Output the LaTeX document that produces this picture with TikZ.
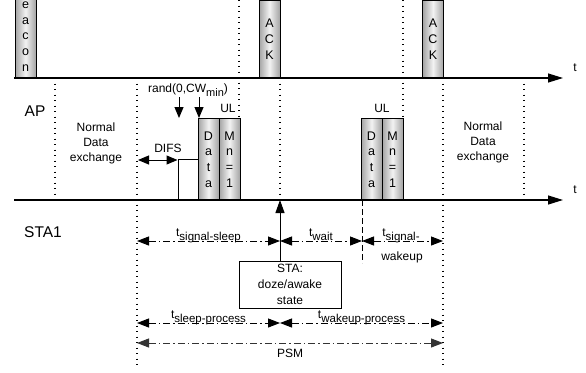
\documentclass[tikz,border=0pt]{standalone}
\usepackage{fontspec}
\setmainfont{Liberation Sans}
\usetikzlibrary{arrows.meta}

\newcommand{\tdur}[1]{t\raisebox{-4.5pt}{\fontsize{11.5}{12}\selectfont #1}}

\begin{document}
\begin{tikzpicture}[
       x=1pt, y=-1pt,
       line width=1pt,
       frame/.style={
         draw,
         left color=black!36,
         right color=black!36,
         middle color=black!5,
         minimum width=21pt,
         inner sep=0pt,
         align=center,
         font=\fontsize{12.5}{15.7}\selectfont
       },
       timeline/.style={line width=1.2pt, -{Triangle[length=15pt,width=9pt]}},
       guide/.style={line width=1.3pt, dash pattern=on 1.3pt off 4.2pt},
       span/.style={
         line width=1pt,
         dash pattern=on 7pt off 3pt on 1.5pt off 3pt,
         {Triangle[length=12pt,width=9pt]}-{Triangle[length=12pt,width=9pt]}
       },
       lbl/.style={font=\fontsize{12}{15}\selectfont, align=center},
       big/.style={font=\fontsize{15.5}{18}\selectfont}
     ]

       \useasboundingbox (0,0) rectangle (586,372);
       \clip (0,0) rectangle (586,372);

       % time axes
       \coordinate (ap0) at (14,78);
       \coordinate (ap1) at (563,78);
       \coordinate (st0) at (14,200);
       \coordinate (st1) at (563,200);

       \node[lbl] (tap) at (575,68) {t};
       \node[lbl] (tst) at (575,190) {t};
       \node[big] (ap) at (35,111) {AP};
       \node[big] (sta1) at (43,232) {STA1};

       % frames
       \node[frame, minimum height=83pt] (bcn) at (25.5,36.5) {e\\a\\c\\o\\n};
       \node[frame, minimum height=78pt] (ack1) at (269.5,39) {A\\C\\K};
       \node[frame, minimum height=78pt] (ack2) at (433,39) {A\\C\\K};

       \node[draw, fill=white, minimum width=20pt, minimum height=41pt, inner sep=0pt] (gap) at (188,179.5) {};
       \node[frame, minimum height=82pt] (data1) at (208.5,159.5) {D\\a\\t\\a};
       \node[frame, minimum height=82pt] (mn1) at (229.5,159.5) {M\\n\\=\\1};
       \node[frame, minimum height=82pt] (data2) at (371.5,159.5) {D\\a\\t\\a};
       \node[frame, minimum height=82pt] (mn2) at (392.5,159.5) {M\\n\\=\\1};

       \draw[timeline] (ap0) -- (ap1);
       \draw[timeline] (st0) -- (st1);

       % guides
       \draw[guide] (55,78) -- (55,200);
       \draw[guide] (137,78) -- (137,365);
       \draw[guide] (239,0) -- (239,118);
       \draw[guide] (280,78) -- (280,200);
       \draw[guide] (403,0) -- (403,118);
       \draw[guide] (443,78) -- (443,365);
       \draw[guide] (524,78) -- (524,200);
       \draw[dash pattern=on 6pt off 3pt] (362,200) -- (362,263);

       \node[lbl] (nde1) at (96,143) {Normal\\Data\\exchange};
       \node[lbl] (nde2) at (483,142) {Normal\\Data\\exchange};

       % contention
       \node[lbl, anchor=base] (rand) at (188,92) {rand(0,CW\raisebox{-4pt}{\fontsize{11}{12}\selectfont min})};
       \coordinate (r1) at (179,97);
       \coordinate (r2) at (199,97);
       \draw[-{Triangle[length=11pt,width=9pt]}] (r1) -- (r1 |- data1.north);
       \draw[-{Triangle[length=11pt,width=9pt]}] (r2) -- (r2 |- data1.north);
       \node[lbl] (ul1) at (228,108) {UL};
       \node[lbl] (ul2) at (382,108) {UL};

       \node[lbl] (difs) at (168,148) {DIFS};
       \coordinate (d0) at (138,160);
       \draw[{Triangle[length=11pt,width=9pt]}-{Triangle[length=11pt,width=9pt]}] (d0) -- (d0 -| gap.west);

       % station state
       \node[draw, fill=white, minimum width=102pt, minimum height=47pt, inner sep=0pt,
             lbl, font=\fontsize{12}{16}\selectfont] (doze) at (290,284.5) {STA:\\doze/awake\\state};
       \coordinate (wake) at (280,200);
       \draw[-{Triangle[length=13pt,width=9pt]}] (doze.north -| wake) -- (wake);

       % durations
       \coordinate (s0) at (137,241);
       \coordinate (s1) at (280,241);
       \coordinate (s2) at (362,241);
       \coordinate (s3) at (443,241);
       \draw[span] (s0) -- (s1);
       \draw[span] (s1) -- (s2);
       \draw[span] (s2) -- (s3);
       \node[lbl, anchor=base] (tss) at (208.5,236) {\tdur{signal-sleep}};
       \node[lbl, anchor=base] (tw) at (321,236) {\tdur{wait}};
       \node[lbl, anchor=base] (tsw) at (401,236) {\tdur{signal-}};
       \node[lbl] (tsw2) at (402,257) {wakeup};

       \coordinate (p0) at (137,323);
       \coordinate (p1) at (280,323);
       \coordinate (p2) at (443,323);
       \draw[span] (p0) -- (p1);
       \draw[span] (p1) -- (p2);
       \node[lbl, anchor=base] (tsp) at (208.5,318) {\tdur{sleep-process}};
       \node[lbl, anchor=base] (twp) at (361.5,318) {\tdur{wakeup-process}};

       \coordinate (m0) at (137,343);
       \coordinate (m1) at (443,343);
       \draw[span, black!80] (m0) -- (m1);
       \node[lbl] (psm) at (290,353) {PSM};

\end{tikzpicture}
\end{document}
